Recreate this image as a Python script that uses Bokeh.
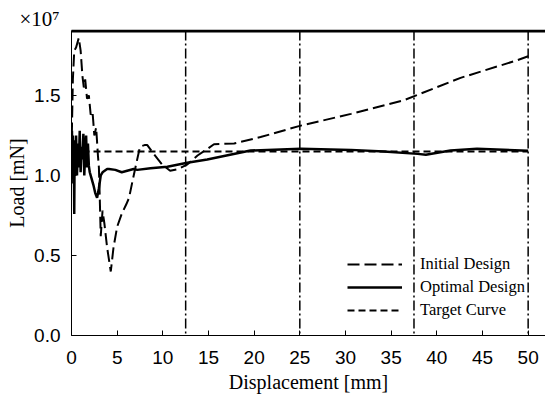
from bokeh.plotting import figure
from bokeh.models import Span, Legend, LegendItem, FixedTicker, NumeralTickFormatter, Range1d, LinearAxis
from bokeh.embed import file_html
from bokeh.resources import INLINE

# ---- data (load in units of 1e7 mN) ----
init_x = [0.0, 0.15, 0.3, 0.5, 0.8, 1.0, 1.2, 1.35, 1.5, 1.7, 1.9, 2.1, 2.3, 2.5, 2.7, 2.9, 3.0, 3.1, 3.2,
          3.4, 3.6, 3.9, 4.3, 4.6, 5.0, 5.5, 6.0, 6.3, 6.7, 7.0, 7.5, 8.0, 8.3, 9.0, 9.9, 10.8, 11.7,
          12.7, 13.8, 14.9, 15.6, 17.8, 20.7, 25.0, 30.6, 36.4, 42.6, 48.8, 50.0]
init_y = [1.15, 1.6, 1.78, 1.80, 1.86, 1.78, 1.62, 1.55, 1.6, 1.48, 1.5, 1.38, 1.4, 1.25, 1.3, 1.12, 1.05,
          0.85, 0.62, 0.78, 0.70, 0.55, 0.40, 0.55, 0.68, 0.76, 0.82, 0.86, 0.97, 1.05, 1.18, 1.19, 1.19,
          1.135, 1.07, 1.03, 1.04, 1.07, 1.125, 1.167, 1.195, 1.2, 1.24, 1.31, 1.385, 1.47, 1.61, 1.72, 1.745]

opt_x = [0.0, 0.05, 0.1, 0.15, 0.2, 0.25, 0.3, 0.35, 0.4, 0.5, 0.6, 0.7, 0.8, 0.9, 1.0, 1.1, 1.2, 1.3,
         1.4, 1.5, 1.6, 1.7, 1.8, 1.9, 2.0, 2.2, 2.4, 2.6, 2.8, 3.0, 3.2, 3.4, 3.9, 4.1, 4.8, 5.5, 6.1,
         6.8, 7.2, 8.65, 10.5, 12.67, 14.86, 19.6, 25.1, 30.6, 34.2, 37.9, 38.8, 41.5, 44.4, 50.0]
opt_y = [1.15, 1.28, 1.0, 1.25, 0.95, 1.2, 0.76, 1.22, 1.05, 1.25, 1.0, 1.2, 1.05, 1.28, 1.02, 1.18, 1.1,
         1.26, 1.0, 1.15, 1.25, 1.05, 1.2, 1.06, 1.02, 0.98, 0.94, 0.89, 0.86, 0.92, 1.0, 1.02, 1.04, 1.04,
         1.035, 1.02, 1.03, 1.04, 1.035, 1.045, 1.055, 1.08, 1.10, 1.156, 1.167, 1.16, 1.15, 1.135, 1.13,
         1.156, 1.167, 1.155]

target_x = [0.0, 50.0]
target_y = [1.15, 1.15]

vlines = [12.5, 25.0, 37.5, 50.0]
x_ticks = [0, 5, 10, 15, 20, 25, 30, 35, 40, 45, 50]
y_ticks = [0.0, 0.5, 1.0, 1.5]
y_top = 1.906

p = figure(width=545, height=403, output_backend="svg", toolbar_location=None,
           x_range=Range1d(0, 51.9), y_range=Range1d(0, y_top),
           min_border_left=71, min_border_right=0, min_border_top=30, min_border_bottom=68,
           title="×10⁷")
p.outline_line_color = None
p.grid.visible = False
p.background_fill_color = "white"

p.title.text_font = "Liberation Serif"
p.title.text_font_size = "21px"
p.title.text_font_style = "normal"
p.title.text_color = "black"
p.title.align = "left"
p.title.offset = -52
p.title.standoff = 0

for ax in (p.xaxis[0], p.yaxis[0]):
    ax.major_tick_in = 5
    ax.major_tick_out = 0
    ax.minor_tick_line_color = None
    ax.major_label_text_font = "Liberation Sans"
    ax.major_label_text_font_size = "19px"
    ax.major_label_text_color = "black"
    ax.axis_label_text_font = "Liberation Serif"
    ax.axis_label_text_font_size = "20px"
    ax.axis_label_text_font_style = "normal"
    ax.axis_label_text_color = "black"
    ax.axis_line_color = "black"
    ax.major_tick_line_color = "black"

p.xaxis.ticker = FixedTicker(ticks=x_ticks)
p.yaxis.ticker = FixedTicker(ticks=y_ticks)
p.yaxis.formatter = NumeralTickFormatter(format="0.0")
p.xaxis.axis_label = "Displacement [mm]"
p.yaxis.axis_label = "Load [mN]"
p.xaxis.major_label_standoff = 15
p.yaxis.major_label_standoff = 11
p.xaxis.axis_label_standoff = 4
p.yaxis.axis_label_standoff = 3

# top border of the frame
top_axis = LinearAxis(ticker=FixedTicker(ticks=[25]), major_tick_in=0, major_tick_out=0,
                      minor_tick_line_color=None, major_tick_line_color=None,
                      major_label_text_font_size="1px", major_label_text_alpha=0,
                      major_label_standoff=0, axis_line_color="black", axis_line_width=1.5)
p.add_layout(top_axis, "above")
p.add_layout(Span(location=y_top - 0.008, dimension="width", line_color="black", line_width=1.5))

for v in vlines:
    p.add_layout(Span(location=v, dimension="height", line_color="black",
                      line_width=1.5, line_dash="10 3 2 3"))

r_init = p.line(init_x, init_y, line_color="black", line_width=2, line_dash="12 5")
r_opt = p.line(opt_x, opt_y, line_color="black", line_width=2.5)
r_tgt = p.line(target_x, target_y, line_color="black", line_width=1.8, line_dash="7 4")

legend = Legend(items=[LegendItem(label="Initial Design", renderers=[r_init]),
                       LegendItem(label="Optimal Design", renderers=[r_opt]),
                       LegendItem(label="Target Curve", renderers=[r_tgt])],
                location=(276, 15), padding=0, margin=0, spacing=3,
                glyph_width=55, glyph_height=20, label_height=20, label_standoff=18,
                label_text_font="Liberation Serif", label_text_font_size="16.5px",
                label_text_color="black",
                border_line_color=None, background_fill_alpha=0)
p.add_layout(legend, "center")

open("out.html", "w").write(file_html(p, INLINE))
